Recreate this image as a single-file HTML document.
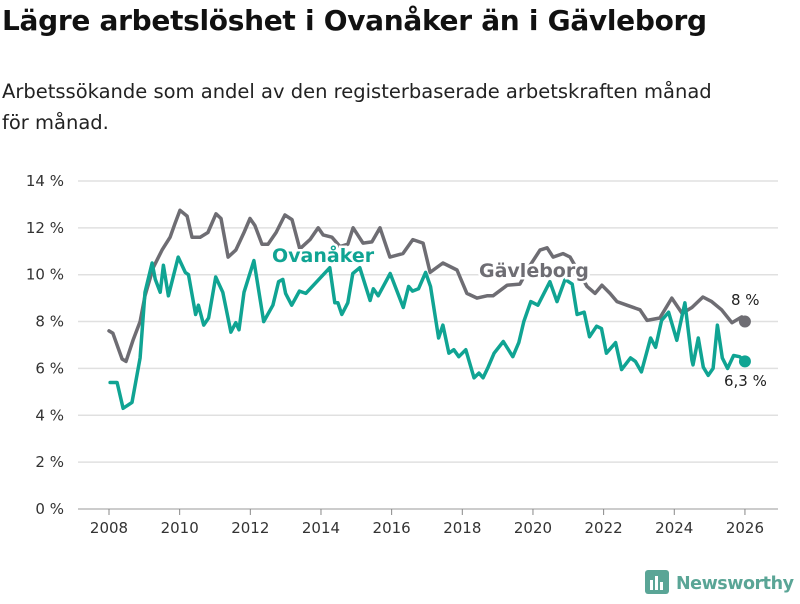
<!DOCTYPE html>
<html><head><meta charset="utf-8"><style>
body{margin:0;width:800px;height:600px;background:#fff;font-family:"Liberation Sans","DejaVu Sans",sans-serif;overflow:hidden;position:relative}
h1{position:absolute;left:2px;top:4px;margin:0;font-size:28px;font-weight:bold;color:#111;font-family:"DejaVu Sans",sans-serif;letter-spacing:-0.3px}
p{position:absolute;left:2px;top:76px;margin:0;font-size:19.5px;line-height:31px;color:#222;width:740px;font-family:"DejaVu Sans",sans-serif}
svg{position:absolute;left:0;top:0}
</style></head><body>
<h1>Lägre arbetslöshet i Ovanåker än i Gävleborg</h1>
<p>Arbetssökande som andel av den registerbaserade arbetskraften månad för månad.</p>
<svg id="c" width="800" height="600"></svg>
<script>
const yTicks=[0,2,4,6,8,10,12,14];
const xTicks=[2008,2010,2012,2014,2016,2018,2020,2022,2024,2026];
const gavYears=[2008.00,2008.11,2008.37,2008.48,2008.68,2008.88,2009.02,2009.25,2009.50,2009.73,2009.87,2010.01,2010.21,2010.35,2010.58,2010.80,2011.03,2011.17,2011.37,2011.59,2011.82,2011.99,2012.13,2012.33,2012.50,2012.73,2012.98,2013.18,2013.40,2013.69,2013.92,2014.06,2014.31,2014.54,2014.76,2014.91,2015.19,2015.44,2015.67,2015.95,2016.32,2016.60,2016.89,2017.09,2017.45,2017.85,2018.13,2018.42,2018.70,2018.87,2019.27,2019.63,2019.92,2020.20,2020.40,2020.57,2020.85,2021.05,2021.53,2021.76,2021.95,2022.18,2022.38,2022.66,2023.03,2023.23,2023.59,2023.93,2024.22,2024.50,2024.81,2025.06,2025.34,2025.63,2025.91,2026.00];
const gavVals=[7.6,7.5,6.4,6.3,7.2,8.0,9.1,10.3,11.05,11.6,12.2,12.75,12.5,11.6,11.6,11.8,12.6,12.4,10.75,11.05,11.8,12.4,12.1,11.3,11.3,11.8,12.55,12.35,11.1,11.5,12.0,11.7,11.6,11.2,11.3,12.0,11.35,11.4,12.0,10.75,10.9,11.5,11.35,10.1,10.5,10.2,9.2,9.0,9.1,9.1,9.55,9.6,10.4,11.05,11.15,10.75,10.9,10.75,9.5,9.2,9.55,9.2,8.85,8.7,8.5,8.05,8.15,9.0,8.35,8.6,9.05,8.85,8.5,7.95,8.2,8.0];
const ovaYears=[2008.03,2008.23,2008.4,2008.65,2008.88,2009.02,2009.22,2009.31,2009.45,2009.54,2009.68,2009.96,2010.16,2010.25,2010.45,2010.53,2010.68,2010.82,2011.02,2011.22,2011.45,2011.59,2011.68,2011.82,2012.1,2012.38,2012.64,2012.8,2012.92,2013.0,2013.17,2013.39,2013.57,2014.25,2014.39,2014.48,2014.59,2014.76,2014.9,2015.1,2015.39,2015.48,2015.62,2015.96,2016.33,2016.48,2016.59,2016.76,2016.96,2017.1,2017.33,2017.45,2017.62,2017.76,2017.9,2018.1,2018.33,2018.47,2018.59,2018.73,2018.9,2019.16,2019.43,2019.6,2019.74,2019.94,2020.14,2020.31,2020.48,2020.68,2020.91,2021.11,2021.25,2021.45,2021.6,2021.8,2021.94,2022.08,2022.34,2022.51,2022.76,2022.9,2023.07,2023.33,2023.47,2023.64,2023.84,2024.07,2024.3,2024.5,2024.53,2024.68,2024.82,2024.96,2025.1,2025.22,2025.36,2025.51,2025.68,2025.85,2026.0];
const ovaVals=[5.4,5.4,4.3,4.55,6.45,9.25,10.5,9.8,9.25,10.4,9.1,10.75,10.1,10.0,8.3,8.7,7.85,8.15,9.9,9.25,7.55,7.95,7.65,9.25,10.6,8.0,8.7,9.7,9.8,9.2,8.7,9.3,9.2,10.3,8.8,8.8,8.3,8.8,10.05,10.3,8.9,9.4,9.1,10.05,8.6,9.5,9.3,9.4,10.1,9.5,7.3,7.85,6.65,6.8,6.5,6.8,5.6,5.8,5.6,6.05,6.65,7.15,6.5,7.1,8.0,8.85,8.7,9.2,9.7,8.85,9.8,9.6,8.3,8.4,7.35,7.8,7.7,6.65,7.1,5.95,6.45,6.3,5.85,7.3,6.9,8.05,8.4,7.2,8.8,6.35,6.15,7.3,6.05,5.7,6.0,7.85,6.45,6.0,6.55,6.5,6.3];
const gavLast=8.0, ovaLast=6.3, lastYear=2026.0;

const NS="http://www.w3.org/2000/svg", svg=document.getElementById('c');
const X=y=>109+(y-2008)*35.33, Y=v=>509-v*23.43;
function mk(t,a,p){const e=document.createElementNS(NS,t);for(const k in a)e.setAttribute(k,a[k]);(p||svg).appendChild(e);return e;}
yTicks.forEach(v=>{
 const g=mk('line',{x1:78,x2:778,y1:Y(v),y2:Y(v),stroke:v===0?'#bbb':'#e0e0e0','stroke-width':1.5});
 
 
 const t=mk('text',{x:64,y:Y(v)+5,'text-anchor':'end','font-size':15,fill:'#333','font-family':'DejaVu Sans, sans-serif'});
 t.textContent=v+' %';
 
 
});
xTicks.forEach(y=>{
 const l=mk('line',{x1:X(y),x2:X(y),y1:509,y2:515,stroke:'#888','stroke-width':1});
 
 
 const t=mk('text',{x:X(y),y:533,'text-anchor':'middle','font-size':15,fill:'#333','font-family':'DejaVu Sans, sans-serif'});
 t.textContent=y;
 
 
});
function line(xs,vs,col,name){
 const d=vs.map((v,i)=>(i?'L':'M')+X(xs[i]).toFixed(1)+','+Y(v).toFixed(1)).join('');
 const p=mk('path',{d:d,fill:'none',stroke:col,'stroke-width':3.5,'stroke-linejoin':'round','stroke-linecap':'round'});
 
 
}
line(gavYears,gavVals,'#6e6d73','gavleborg-line');
line(ovaYears,ovaVals,'#10a493','ovanaker-line');
function lab(x,y,txt,col,name,size,bold){
 const t=mk('text',{x:x,y:y,'font-size':size,fill:col,'font-weight':bold?'bold':'normal',stroke:'#fff','stroke-width':bold?5:4,'paint-order':'stroke','font-family':'DejaVu Sans, sans-serif'});
 t.textContent=txt;
 
 
}
lab(272,262,'Ovanåker','#10a493','ovanaker-label',19,true);
lab(479,277,'Gävleborg','#6e6d73','gavleborg-label',19,true);
const d1=mk('circle',{cx:X(lastYear),cy:Y(gavLast),r:6,fill:'#6e6d73'});


const d2=mk('circle',{cx:X(lastYear),cy:Y(ovaLast),r:6,fill:'#10a493'});


lab(731,305,'8 %','#222','gavleborg-end-value',15,false);
lab(724,386,'6,3 %','#222','ovanaker-end-value',15,false);
</script>
<svg width="160" height="40" style="left:640px;top:564px">
<rect x="5" y="6" width="24" height="24" rx="3" fill="#5aa596"/>
<rect x="10" y="16" width="3" height="10" fill="#fff"/><rect x="15" y="12" width="3" height="14" fill="#fff"/><rect x="20" y="18" width="3" height="8" fill="#fff"/>
<text x="36" y="25" font-size="17.5" font-weight="bold" fill="#5aa596" font-family="DejaVu Sans, sans-serif" textLength="118">Newsworthy</text>
</svg>
</body></html>
